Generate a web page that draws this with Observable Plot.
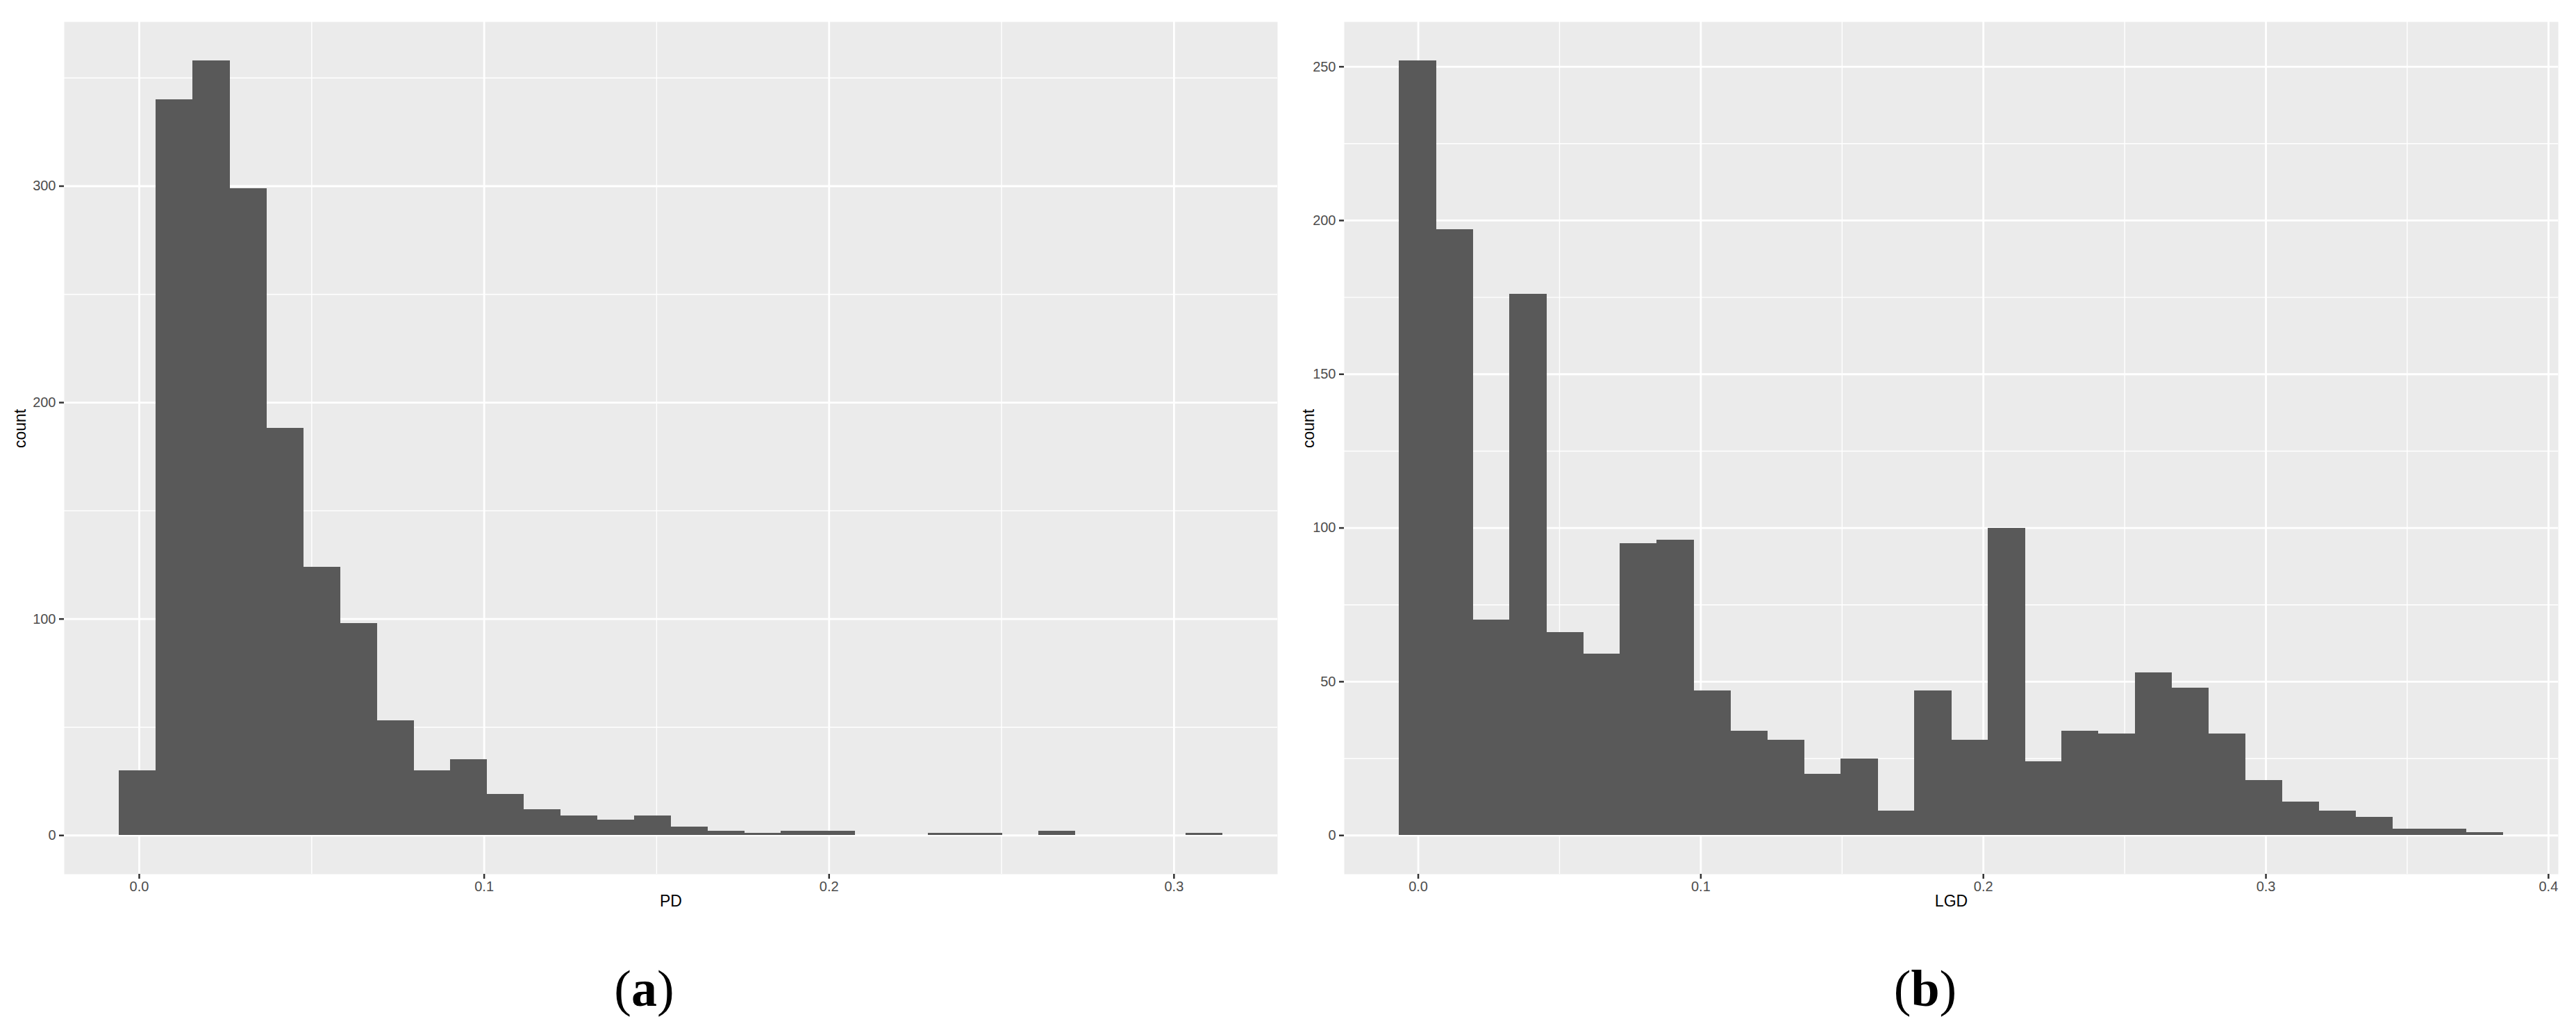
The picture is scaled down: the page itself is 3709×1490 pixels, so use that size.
<!DOCTYPE html>
<html>
<head>
<meta charset="utf-8">
<script src="https://cdn.jsdelivr.net/npm/d3@7"></script>
<script src="https://cdn.jsdelivr.net/npm/@observablehq/plot@0.6"></script>
<style>
  html, body { margin: 0; padding: 0; background: #fff; }
  #fig { display: flex; flex-direction: row; width: 3709px; height: 1490px; }
  .col { display: flex; flex-direction: column; }
  .cap { height: 150px; box-sizing: border-box; padding-top: 46px; text-align: center;
         font-family: "Liberation Serif", "Times New Roman", serif; font-size: 74px; line-height: 74px; color: #000; }
  .cap b { font-weight: bold; }
</style>
</head>
<body>
<div id="fig"></div>
<script>
// ---------- data ----------
// Panel (a): PD histogram, 30 bins
const pdCounts = [30, 340, 358, 299, 188, 124, 98, 53, 30, 35, 19, 12, 9, 7, 9, 4, 2, 1, 2, 2, 0, 0, 1, 1, 0, 2, 0, 0, 0, 1];
const pdBinStart = -0.00576;
const pdBinWidth = 0.01066;
const pdTicksX = [0, 0.1, 0.2, 0.3];
const pdMinorX = [0.05, 0.15, 0.25];
const pdTicksY = [0, 100, 200, 300];
const pdMinorY = [50, 150, 250, 350];

// Panel (b): LGD histogram, 30 bins
const lgdCounts = [252, 197, 70, 176, 66, 59, 95, 96, 47, 34, 31, 20, 25, 8, 47, 31, 100, 24, 34, 33, 53, 48, 33, 18, 11, 8, 6, 2, 2, 1];
const lgdBinStart = -0.00666;
const lgdBinWidth = 0.01302;
const lgdTicksX = [0, 0.1, 0.2, 0.3, 0.4];
const lgdMinorX = [0.05, 0.15, 0.25, 0.35];
const lgdTicksY = [0, 50, 100, 150, 200, 250];
const lgdMinorY = [25, 75, 125, 175, 225];

const xTitles = ["PD", "LGD"];
const yTitle = "count";
const captions = ["a", "b"];

// ---------- drawing ----------
function panel(cfg) {
  const bins = cfg.counts.map((c, i) => ({
    x1: cfg.start + i * cfg.width,
    x2: cfg.start + (i + 1) * cfg.width,
    count: c
  }));
  const lo = cfg.start, hi = cfg.start + cfg.counts.length * cfg.width;
  const pad = 0.05 * (hi - lo);
  const ymax = d3.max(cfg.counts);
  return Plot.plot({
    width: cfg.W,
    height: 1340,
    marginLeft: cfg.ml,
    marginRight: cfg.mr,
    marginTop: 31,
    marginBottom: 82,
    x: {domain: [lo - pad, hi + pad]},
    y: {domain: [-0.05 * ymax, 1.05 * ymax]},
    style: {
      fontFamily: '"Liberation Sans", Arial, Helvetica, sans-serif',
      fontSize: "20px",
      background: "white",
      overflow: "visible"
    },
    marks: [
      Plot.frame({fill: "#ebebeb", stroke: "none"}),
      Plot.gridX(cfg.minorX, {stroke: "white", strokeOpacity: 1, strokeWidth: 1.4}),
      Plot.gridY(cfg.minorY, {stroke: "white", strokeOpacity: 1, strokeWidth: 1.4}),
      Plot.gridX(cfg.ticksX, {stroke: "white", strokeOpacity: 1, strokeWidth: 2.8}),
      Plot.gridY(cfg.ticksY, {stroke: "white", strokeOpacity: 1, strokeWidth: 2.8}),
      Plot.rectY(bins, {x1: "x1", x2: "x2", y: "count", fill: "#595959", inset: 0,
                        insetRight: -0.6, shapeRendering: "crispEdges"}),
      Plot.axisX(cfg.ticksX, {
        tickFormat: d3.format(".1f"), tickSize: 7, tickPadding: 3,
        stroke: "#333333", strokeWidth: 2.5, fill: "#4d4d4d", fontSize: 20, label: null
      }),
      Plot.axisY(cfg.ticksY, {
        tickFormat: d3.format("d"), tickSize: 7, tickPadding: 5,
        stroke: "#333333", strokeWidth: 2.5, fill: "#4d4d4d", fontSize: 20, label: null
      }),
      Plot.text([cfg.xTitle], {frameAnchor: "bottom", dy: 46, fontSize: 23, fill: "black"}),
      Plot.text([yTitle], {frameAnchor: "left", dx: -(cfg.ml - 29), rotate: -90, fontSize: 23, fill: "black"})
    ]
  });
}

const fig = document.getElementById("fig");
const cfgs = [
  {counts: pdCounts, start: pdBinStart, width: pdBinWidth, ticksX: pdTicksX, minorX: pdMinorX,
   ticksY: pdTicksY, minorY: pdMinorY, xTitle: xTitles[0], W: 1855, ml: 92, mr: 16, cap: captions[0]},
  {counts: lgdCounts, start: lgdBinStart, width: lgdBinWidth, ticksX: lgdTicksX, minorX: lgdMinorX,
   ticksY: lgdTicksY, minorY: lgdMinorY, xTitle: xTitles[1], W: 1854, ml: 80, mr: 26, cap: captions[1]}
];
cfgs.forEach((cfg, i) => {
  const col = document.createElement("div");
  col.className = "col";
  col.style.width = cfg.W + "px";
  col.appendChild(panel(cfg));
  const cap = document.createElement("div");
  cap.className = "cap";
  if (i === 1) cap.style.paddingRight = "20px";
  cap.innerHTML = "(<b>" + cfg.cap + "</b>)";
  col.appendChild(cap);
  fig.appendChild(col);
});
</script>
</body>
</html>
